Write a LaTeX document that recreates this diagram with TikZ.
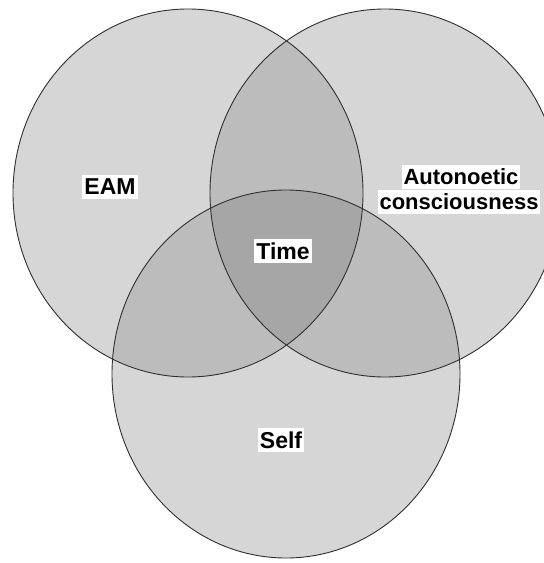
\documentclass[tikz,border=0pt]{standalone}
\usepackage{fontspec}
\setmainfont{Liberation Sans}
\definecolor{gone}{HTML}{D6D6D6}
\definecolor{gtwo}{HTML}{BCBCBC}
\definecolor{gthree}{HTML}{A6A6A6}
\definecolor{edge}{HTML}{303030}
\tikzset{
  lbl/.style={fill=white, inner xsep=2bp, inner ysep=4bp, font=\fontsize{23bp}{25bp}\selectfont\bfseries, text=black},
  lblsmall/.style={lbl, font=\fontsize{22bp}{25bp}\selectfont\bfseries}
}
\begin{document}
\begin{tikzpicture}[x=1bp,y=-1bp]
\useasboundingbox (0,0) rectangle (544,563);
\clip (0,0) rectangle (544,563);
\fill[white] (0,0) rectangle (544,563);
\def\EL{(188,193) ellipse [x radius=175bp, y radius=184bp]}
\def\ER{(385,193) ellipse [x radius=175bp, y radius=184bp]}
\def\EB{(286,374) ellipse [x radius=174bp, y radius=184bp]}
% single fills
\fill[gone] \EL; \fill[gone] \ER; \fill[gone] \EB;
% pairwise
\begin{scope}\clip \EL; \fill[gtwo] \ER; \fill[gtwo] \EB;\end{scope}
\begin{scope}\clip \ER; \fill[gtwo] \EB;\end{scope}
% triple
\begin{scope}\clip \EL; \clip \ER; \fill[gthree] \EB;\end{scope}
% outlines
\draw[edge, line width=0.9bp] \EL;
\draw[edge, line width=0.9bp] \ER;
\draw[edge, line width=0.9bp] \EB;
% labels
\node[lbl] (eam) at (110,187) {EAM};
\node[lbl] (time) at (283,251) {Time};
\node[lbl] (self) at (281,440) {Self};
\node[lblsmall] (aut) at (461,177) {Autonoetic};
\node[lblsmall] (con) at (459,202) {consciousness};
\end{tikzpicture}
\end{document}
